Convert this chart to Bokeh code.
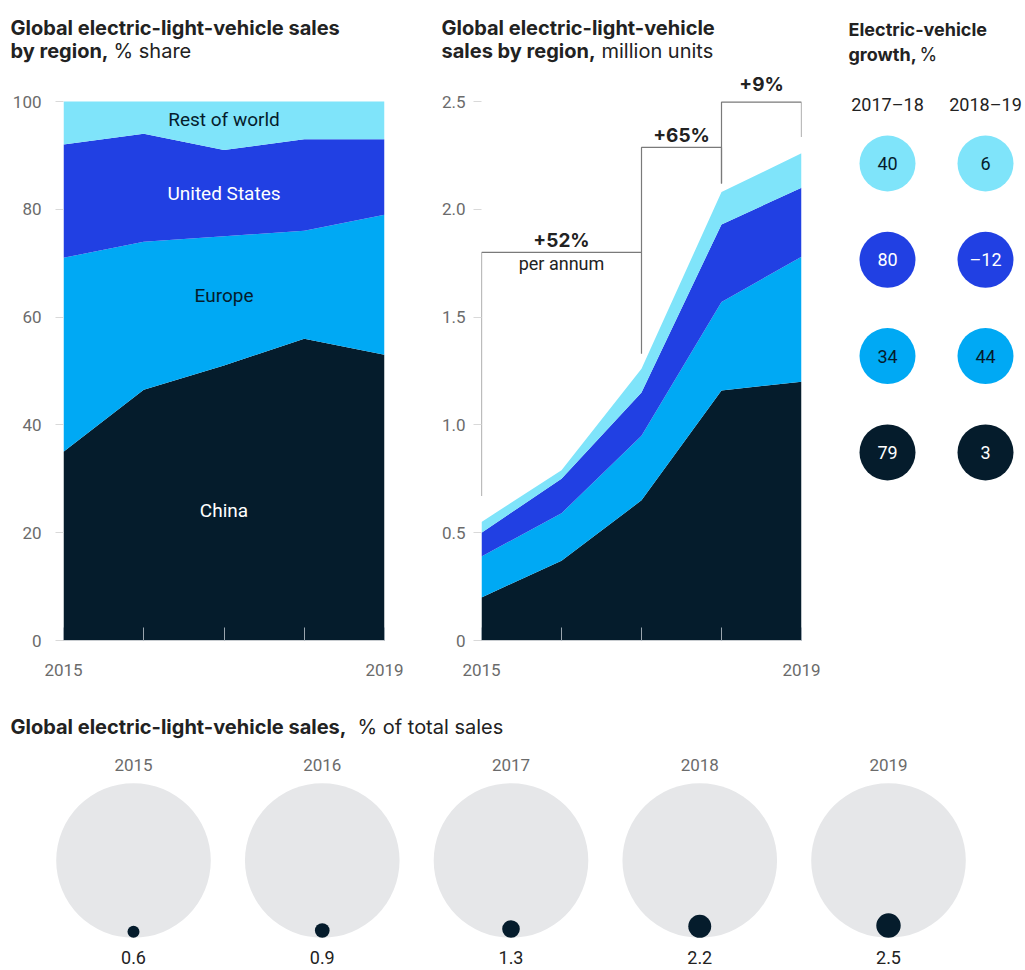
from bokeh.plotting import figure
from bokeh.models import Range1d, ColumnDataSource, Label, FixedTicker
from bokeh.layouts import column, row
from bokeh.embed import file_html
from bokeh.resources import INLINE
from bokeh.core.properties import value
import math

# ---------------- data ----------------
years = [2015, 2016, 2017, 2018, 2019]
regions = ["China", "Europe", "United States", "Rest of world"]

share_china = [35, 46.5, 51, 56, 53]
share_europe = [36, 27.5, 24, 20, 26]
share_us = [21, 20, 16, 17, 14]
share_row = [8, 6, 9, 7, 7]

units_china = [0.20, 0.37, 0.65, 1.16, 1.20]
units_europe = [0.19, 0.22, 0.30, 0.41, 0.58]
units_us = [0.11, 0.16, 0.20, 0.36, 0.32]
units_row = [0.05, 0.04, 0.11, 0.15, 0.16]

growth_periods = ["2017–18", "2018–19"]
growth_regions = ["Rest of world", "United States", "Europe", "China"]  # top to bottom
growth_1718 = [40, 80, 34, 79]
growth_1819 = [6, -12, 44, 3]

ev_share_total = [0.6, 0.9, 1.3, 2.2, 2.5]

# brackets: (start year, end year, top, left bottom, right bottom, label, label y, sublabel)
brackets = [
    (2015, 2017, 1.80, 0.67, 1.33, "+52%", 1.855, "per annum"),
    (2017, 2018, 2.287, 1.80, 2.12, "+65%", 2.342, ""),
    (2018, 2019, 2.497, 2.12, 2.335, "+9%", 2.578, ""),
]

# ---------------- style ----------------
C_ROW = "#7FE4FA"
C_US = "#2140E3"
C_EU = "#00A9F4"
C_CN = "#051C2C"
region_colors = {"China": C_CN, "Europe": C_EU, "United States": C_US, "Rest of world": C_ROW}
text_on = {"China": "white", "Europe": "#051C2C", "United States": "white", "Rest of world": "#051C2C"}

FONT = "Roboto"
TFONT = "Inter"
TITLE_COL = "#222222"
TICK_COL = "#6b6b6b"
BODY_COL = "#222222"

# layout geometry (pixels)
TITLE_H = 70
ROW_H = 620
FRAME_TOP = 2        # frame top inside chart row
FRAME_BOT = 50       # border below frame
FRAME_PX = ROW_H - FRAME_TOP - FRAME_BOT
PX_PER_PCT = 5.39
PX_PER_MU = 215.6
TITLE_SHIFT = 8      # renderer places label baseline lower than requested in title strip


def base_fig(w, h, xr, yr, **kw):
    p = figure(width=w, height=h, x_range=xr, y_range=yr, output_backend="svg",
               toolbar_location=None, tools="", **kw)
    p.outline_line_color = None
    p.background_fill_color = "white"
    p.border_fill_color = "white"
    p.grid.visible = False
    return p


def style_axes(p, yticks, y_overrides, y_standoff):
    p.xaxis.ticker = FixedTicker(ticks=years)
    p.xaxis.major_label_overrides = {y: "" for y in years[1:-1]}
    p.xaxis.major_tick_in = 13
    p.xaxis.major_tick_out = 0
    p.xaxis.major_tick_line_color = "#9aa5ae"
    p.xaxis.axis_line_color = "#c8ccd0"
    p.xaxis.minor_tick_line_color = None
    p.xaxis.major_label_standoff = 23
    p.xaxis.major_label_text_font = FONT
    p.xaxis.major_label_text_font_size = "17px"
    p.xaxis.major_label_text_color = TICK_COL

    p.yaxis.ticker = FixedTicker(ticks=yticks)
    p.yaxis.major_label_overrides = y_overrides
    p.yaxis.major_tick_in = 0
    p.yaxis.major_tick_out = 8
    p.yaxis.major_tick_line_color = "#d9d9d9"
    p.yaxis.axis_line_color = None
    p.yaxis.minor_tick_line_color = None
    p.yaxis.major_label_standoff = y_standoff
    p.yaxis.major_label_text_font = FONT
    p.yaxis.major_label_text_font_size = "17px"
    p.yaxis.major_label_text_color = TICK_COL


# ---------------- title strip ----------------
pt = base_fig(1025, TITLE_H, Range1d(0, 1025), Range1d(TITLE_H, 0), min_border=0)
pt.axis.visible = False
titles = [
    # (x, baseline y, text, bold, size)
    (10, 35, "Global electric-light-vehicle sales", True, "20px"),
    (10, 58, "by region,", True, "20px"),
    (113, 58, "% share", False, "20px"),
    (441, 35, "Global electric-light-vehicle", True, "20px"),
    (441, 58, "sales by region,", True, "20px"),
    (601, 58, "million units", False, "20px"),
    (848, 37, "Electric-vehicle", True, "18px"),
    (848, 62, "growth,", True, "18px"),
    (919, 62, "%", False, "18px"),
]
for tx, ty, txt, bold, size in titles:
    pt.add_layout(Label(x=tx, y=ty - TITLE_SHIFT, text=txt, text_font=TFONT, text_font_size=size,
                        text_font_style="bold" if bold else "normal", text_color=TITLE_COL,
                        text_baseline="alphabetic", text_align="left"))

# ---------------- panel 1: % share ----------------
src1 = ColumnDataSource(dict(year=years, China=share_china, Europe=share_europe,
                             US=share_us, ROW=share_row))
p1 = base_fig(420, ROW_H, Range1d(2015, 2019), Range1d(0, FRAME_PX / PX_PER_PCT),
              min_border_left=63, min_border_right=36, min_border_top=FRAME_TOP,
              min_border_bottom=FRAME_BOT)
p1.varea_stack(stackers=["China", "Europe", "US", "ROW"], x="year", source=src1,
               color=[C_CN, C_EU, C_US, C_ROW])
style_axes(p1, [0, 20, 40, 60, 80, 100], {}, 14)
area_label_y = [24.1, 64.0, 82.9, 96.7]
for reg, yy in zip(regions, area_label_y):
    p1.add_layout(Label(x=2017, y=yy, text=reg, text_align="center", text_baseline="middle",
                        text_font=FONT, text_font_size="19px", text_color=text_on[reg]))

# ---------------- panel 2: million units ----------------
src2 = ColumnDataSource(dict(year=years, China=units_china, Europe=units_europe,
                             US=units_us, ROW=units_row))
p2 = base_fig(410, ROW_H, Range1d(2015, 2019), Range1d(0, FRAME_PX / PX_PER_MU),
              min_border_left=61, min_border_right=29, min_border_top=FRAME_TOP,
              min_border_bottom=FRAME_BOT)
p2.varea_stack(stackers=["China", "Europe", "US", "ROW"], x="year", source=src2,
               color=[C_CN, C_EU, C_US, C_ROW])
style_axes(p2, [0, 0.5, 1, 1.5, 2, 2.5],
           {0: "0", 0.5: "0.5", 1: "1.0", 1.5: "1.5", 2: "2.0", 2.5: "2.5"}, 8)
bx, by = [], []
for x0, x1, top, lb, rb, lab, ly, sub in brackets:
    bx.append([x0, x0, x1, x1])
    by.append([lb, top, top, rb])
p2.multi_line(xs=bx, ys=by, line_color="#7a7a7a", line_width=1.2)
for x0, x1, top, lb, rb, lab, ly, sub in brackets:
    xm = (x0 + x1) / 2
    p2.add_layout(Label(x=xm, y=ly, text=lab, text_align="center", text_baseline="middle",
                        text_font=TFONT, text_font_size="19px", text_font_style="bold",
                        text_color=BODY_COL))
    if sub:
        p2.add_layout(Label(x=xm, y=top - 0.05, text=sub, text_align="center", text_baseline="middle",
                            text_font=FONT, text_font_size="18px", text_color=BODY_COL))

# ---------------- panel 3: growth bubbles ----------------
col_px = 98.0
row_px = 96.3
first_row_y = 163 - TITLE_H - FRAME_TOP   # first bubble centre below frame top
p3 = base_fig(195, ROW_H, Range1d(-57 / col_px, (195 - 57) / col_px),
              Range1d((FRAME_PX - first_row_y) / row_px, -first_row_y / row_px),
              min_border_left=0, min_border_right=0, min_border_top=FRAME_TOP,
              min_border_bottom=FRAME_BOT)
p3.axis.visible = False
gx, gy, gc, gt, gtc = [], [], [], [], []
for ci, vals in enumerate([growth_1718, growth_1819]):
    for ri, (reg, v) in enumerate(zip(growth_regions, vals)):
        gx.append(ci)
        gy.append(ri)
        gc.append(region_colors[reg])
        gt.append(("–" + str(abs(v))) if v < 0 else str(v))
        gtc.append(text_on[reg])
src3 = ColumnDataSource(dict(x=gx, y=gy, c=gc, t=gt, tc=gtc))
p3.scatter(x="x", y="y", size=56, fill_color="c", line_color=None, source=src3)
p3.text(x="x", y="y", text="t", text_color="tc", text_align="center", text_baseline="middle",
        text_font=value(FONT), text_font_size="18px", source=src3)
p3.text(x=[0, 1], y=[-0.61, -0.61], text=growth_periods, text_align="center", text_baseline="middle",
        text_font=value(FONT), text_font_size="18px", text_color=BODY_COL)

# ---------------- panel 4: EV share of total sales ----------------
spacing = 188.75
c0 = 133.0
R = 77.3
cy = 110.0
p4 = base_fig(1025, 280, Range1d(2015 - c0 / spacing, 2015 + (1025 - c0) / spacing),
              Range1d(0, 280), min_border=0)
p4.axis.visible = False
p4.scatter(x=years, y=[cy] * len(years), size=2 * R, fill_color="#E6E7E9", line_color=None)
dot_r = [R * math.sqrt(v / 100.0) for v in ev_share_total]
p4.scatter(x=years, y=[cy - R + r for r in dot_r], size=[2 * r for r in dot_r],
           fill_color=C_CN, line_color=None)
p4.text(x=years, y=[cy + R + 18] * len(years), text=[str(y) for y in years],
        text_align="center", text_baseline="middle", text_font=value(FONT),
        text_font_size="17px", text_color=TICK_COL)
p4.text(x=years, y=[cy - R - 20] * len(years), text=[f"{v:.1f}" for v in ev_share_total],
        text_align="center", text_baseline="middle", text_font=value(FONT),
        text_font_size="18px", text_color=BODY_COL)
p4.add_layout(Label(x=10, y=280 - 48, x_units="screen", y_units="screen",
                    text="Global electric-light-vehicle sales,", text_font=TFONT,
                    text_font_size="20px", text_font_style="bold", text_color=TITLE_COL))
p4.add_layout(Label(x=357, y=280 - 48, x_units="screen", y_units="screen",
                    text="% of total sales", text_font=TFONT,
                    text_font_size="20px", text_color=TITLE_COL))

layout = column(pt, row(p1, p2, p3), p4)
open("out.html", "w").write(file_html(layout, INLINE))
